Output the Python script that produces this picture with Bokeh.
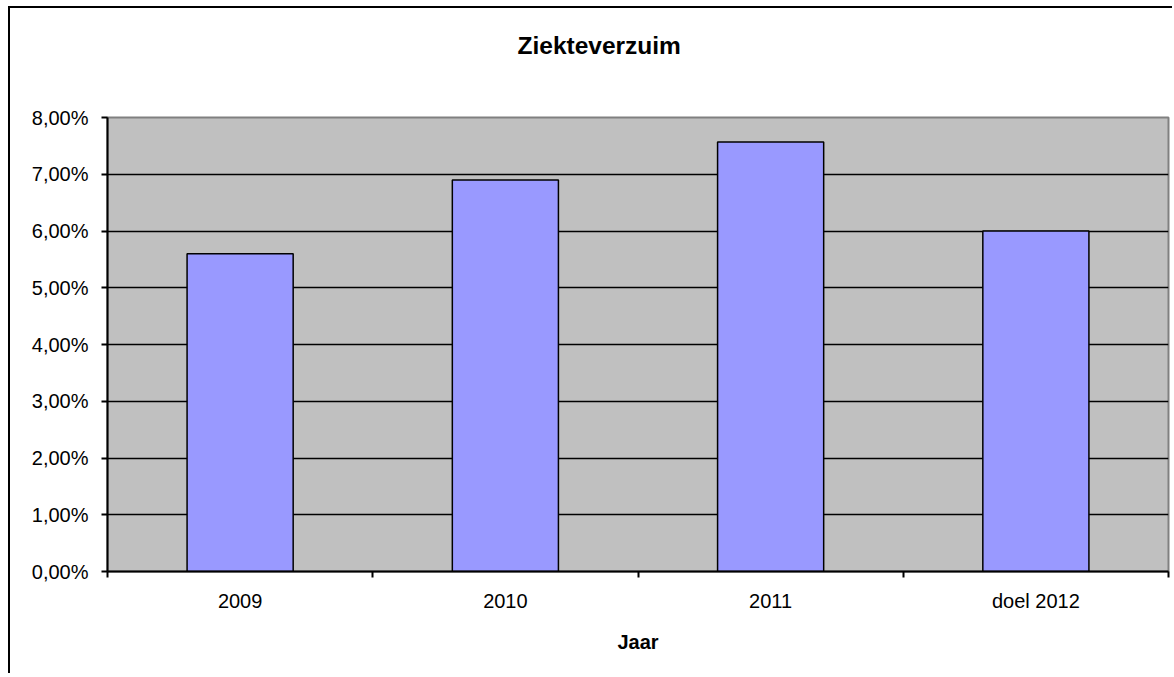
from bokeh.plotting import figure
from bokeh.models import FixedTicker, ColumnDataSource
from bokeh.embed import file_html
from bokeh.resources import INLINE

# Data
categories = ["2009", "2010", "2011", "doel 2012"]
verzuim_pct = [5.60, 6.90, 7.57, 6.00]
y_ticks = [0, 1, 2, 3, 4, 5, 6, 7, 8]
y_labels = [f"{t:.2f}".replace(".", ",") + "%" for t in y_ticks]
chart_title = "Ziekteverzuim"

FONT = "Liberation Sans"

x_pos = [i + 0.5 for i in range(len(categories))]
src = ColumnDataSource(dict(x=x_pos, top=verzuim_pct, cat=categories))

p = figure(width=1164, height=667, output_backend="svg", toolbar_location=None,
           x_range=(0, len(categories)), y_range=(0, 8),
           min_border_left=97, min_border_right=6, min_border_top=109, min_border_bottom=104)
p.styles = {"border-top": "2px solid black", "border-left": "2px solid black",
            "margin-left": "8px", "margin-top": "6px"}

p.background_fill_color = "#C0C0C0"
p.border_fill_color = "white"
p.outline_line_color = "#808080"
p.outline_line_width = 2

p.vbar(x="x", top="top", width=0.4, bottom=0, source=src,
       fill_color="#9999FF", line_color="black", line_width=1.5)

# Y axis
p.yaxis.ticker = FixedTicker(ticks=y_ticks, minor_ticks=[])
p.yaxis.major_label_overrides = {t: l for t, l in zip(y_ticks, y_labels)}
p.yaxis.major_label_text_font = FONT
p.yaxis.major_label_text_font_size = "20px"
p.yaxis.major_label_text_color = "black"
p.yaxis.axis_line_color = "black"
p.yaxis.axis_line_width = 2
p.yaxis.major_tick_out = 6
p.yaxis.major_tick_in = 0
p.yaxis.major_tick_line_width = 2
p.yaxis.minor_tick_line_color = None
p.yaxis.major_label_standoff = 13

# X axis
p.xaxis.ticker = FixedTicker(ticks=x_pos, minor_ticks=list(range(len(categories) + 1)))
p.xaxis.major_label_overrides = {x: c for x, c in zip(x_pos, categories)}
p.xaxis.major_label_text_font = FONT
p.xaxis.major_label_text_font_size = "20px"
p.xaxis.major_label_text_color = "black"
p.xaxis.axis_line_color = "black"
p.xaxis.axis_line_width = 2
p.xaxis.major_tick_line_color = None
p.xaxis.minor_tick_out = 6
p.xaxis.minor_tick_in = 0
p.xaxis.minor_tick_line_color = "black"
p.xaxis.minor_tick_line_width = 2
p.xaxis.major_label_standoff = 12
p.xaxis.axis_label = "Jaar"
p.xaxis.axis_label_text_font = FONT
p.xaxis.axis_label_text_font_size = "20px"
p.xaxis.axis_label_text_font_style = "bold"
p.xaxis.axis_label_text_color = "black"
p.xaxis.axis_label_standoff = 16

# Grid
p.xgrid.grid_line_color = None
p.ygrid.ticker = FixedTicker(ticks=y_ticks[1:-1])
p.ygrid.grid_line_color = "black"
p.ygrid.grid_line_width = 1.5

# Title (two trailing spacer lines lift it away from the plot area)
p.title.text = chart_title + "\n \n "
p.title.align = "left"
p.title.offset = 410
p.title.standoff = 10
p.title.text_font = FONT
p.title.text_font_size = "24.5px"
p.title.text_font_style = "bold"
p.title.text_color = "black"

open("out.html", "w").write(file_html(p, INLINE))
